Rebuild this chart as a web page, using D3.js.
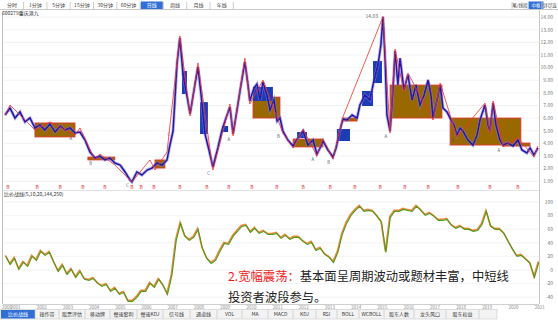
<!DOCTYPE html>
<html><head><meta charset="utf-8">
<script src="https://cdn.jsdelivr.net/npm/d3@7"></script>
<style>body{margin:0;background:#fff;overflow:hidden}svg{display:block;font-family:"Noto Sans CJK SC","Noto Sans",sans-serif}</style>
</head><body><svg id="c" width="558" height="321"></svg>
<script>
const years=[2000,2001,2002,2003,2004,2005,2006,2007,2008,2009,2010,2011,2012,2013,2014,2015,2016,2017,2018,2019,2020,2021];
const priceTicks=[1,2,3,4,5,6,7,8,9,10,11,12,13,14];
const oscTicks=[-40,-20,0,20,40,60,80,100];
const priceDates=[2000.79,2000.98,2001.17,2001.36,2001.55,2001.74,2001.93,2002.12,2002.31,2002.50,2002.70,2002.89,2003.08,2003.27,2003.46,2003.65,2003.84,2004.03,2004.22,2004.41,2004.60,2004.79,2004.98,2005.18,2005.37,2005.56,2005.63,2005.82,2006.01,2006.21,2006.40,2006.59,2006.78,2006.97,2007.08,2007.20,2007.27,2007.35,2007.46,2007.58,2007.69,2007.85,2008.00,2008.15,2008.27,2008.42,2008.57,2008.72,2008.91,2009.07,2009.22,2009.37,2009.49,2009.64,2009.79,2009.94,2010.06,2010.13,2010.29,2010.40,2010.52,2010.63,2010.78,2010.90,2011.05,2011.17,2011.28,2011.39,2011.58,2011.78,2011.97,2012.16,2012.35,2012.54,2012.69,2012.81,2012.92,2013.11,2013.30,2013.42,2013.57,2013.68,2013.84,2014.03,2014.22,2014.33,2014.52,2014.71,2014.87,2015.02,2015.13,2015.21,2015.29,2015.36,2015.48,2015.59,2015.67,2015.78,2015.86,2016.01,2016.16,2016.32,2016.47,2016.62,2016.78,2016.93,2017.04,2017.12,2017.27,2017.39,2017.50,2017.65,2017.77,2017.92,2018.03,2018.15,2018.26,2018.45,2018.64,2018.80,2018.91,2019.10,2019.22,2019.29,2019.41,2019.52,2019.67,2019.79,2019.98,2020.17,2020.36,2020.51,2020.70,2020.82,2020.97,2021.12];
const priceValues=[6.25,6.80,6.01,6.49,5.70,6.01,5.22,5.46,5.06,5.54,4.90,5.38,5.06,5.22,4.82,4.90,4.27,3.32,2.84,3.00,2.69,2.84,2.45,2.29,1.74,1.10,0.95,1.74,1.50,1.89,2.05,2.45,2.29,2.69,3.87,4.98,7.44,10.29,12.35,9.50,8.23,6.33,8.23,10.05,7.83,4.75,3.48,2.13,3.64,5.06,6.01,6.88,4.75,6.65,8.62,10.45,8.62,7.36,8.39,8.70,7.44,8.86,7.83,6.65,7.44,5.77,6.01,4.98,4.27,3.80,4.43,4.98,3.87,4.27,3.16,3.64,4.19,3.48,2.92,3.64,5.06,5.93,5.85,6.25,6.01,7.04,7.83,7.44,9.02,10.21,11.79,14.03,10.63,6.25,4.98,8.23,11.32,8.62,10.76,8.23,9.42,7.44,8.62,7.04,7.83,9.02,7.83,6.01,7.44,8.62,6.80,6.49,6.01,5.46,4.67,5.22,4.98,4.27,3.87,4.67,5.85,7.04,5.46,4.98,7.19,5.46,4.27,3.87,4.03,3.80,4.27,3.48,3.24,3.64,3.08,3.64];
const biDates=[2000.79,2000.98,2001.93,2002.50,2003.46,2003.65,2004.22,2004.41,2004.98,2005.63,2006.32,2006.51,2006.97,2007.46,2007.85,2008.15,2008.72,2009.37,2009.49,2009.94,2010.13,2010.63,2011.39,2011.78,2012.16,2012.69,2012.92,2013.30,2013.68,2015.21,2015.48,2015.67,2016.01,2016.16,2017.12,2017.39,2018.03,2019.10,2019.29,2019.41,2019.79,2020.36,2020.97,2021.12];
const biValues=[6.25,7.04,5.06,5.70,4.67,5.22,2.69,3.16,2.29,0.95,2.69,1.89,3.32,12.51,6.17,10.37,1.89,7.12,4.59,10.76,7.12,9.02,4.82,3.64,5.14,3.00,4.35,2.76,6.09,14.03,4.82,11.47,8.07,9.58,5.85,8.78,4.51,7.19,4.82,7.36,3.72,4.43,2.92,3.80];
const zsStart=[2001.93,2003.95,2006.51,2010.25,2011.78,2013.68,2015.48,2017.77,2019.79];
const zsEnd=[2003.46,2004.98,2006.89,2011.28,2012.92,2014.22,2017.46,2020.47,2020.82];
const zsLow=[4.51,2.69,2.05,6.01,3.72,5.77,6.01,3.87,3.79];
const zsHigh=[5.62,2.92,2.69,7.67,4.35,6.01,8.62,6.01,4.03];
const blueStart=[2014.41,2014.83,2008.23,2007.54,2010.25,2009.07,2013.45,2011.93];
const blueEnd=[2014.83,2015.17,2008.53,2007.73,2011.01,2009.30,2013.95,2012.31];
const blueLow=[6.96,8.78,4.74,7.91,7.36,4.90,4.19,4.43];
const blueHigh=[8.15,10.52,7.27,9.73,8.47,5.38,5.14,4.90];
const oscStart=2000.8, oscStep=1/6;
const oscValues=[20.6,8.8,17.6,1.5,11.8,5.9,20.6,14.7,27.9,22.1,26.5,11.8,-1.5,7.4,-5.9,1.5,-10.3,-1.5,-13.2,-14.7,-11.8,-19.1,-23.5,-20.6,-30.9,-26.5,-35.3,-32.4,-45.6,-45.6,-39.7,-30.9,-30.9,-19.1,-25.0,-13.2,-22.1,-35.3,-7.4,44.1,69.1,50,44.1,48.5,60.3,32.4,17.6,10.3,14.7,27.9,39.7,38.2,50,57.4,64.7,66.2,55.9,61.8,54.4,57.4,52.9,52.9,54.4,47.1,51.5,45.6,48.5,48.5,42.6,38.2,41.2,29.4,32.4,23.5,19.1,11.8,26.5,52.9,69.1,80.9,88.2,94.1,86.8,88.2,86.8,79.4,70.6,26.5,77.9,86.8,86.8,89.7,88.2,86.8,94.1,88.2,80.9,83.8,79.4,73.5,73.5,75,66.2,61.8,64.7,60.3,60.3,57.4,58.8,67.6,86.8,64.7,60.3,60.3,54.4,42.6,30.9,20.6,22.1,16.2,10.3,-10.3,11.8];
const markerDates=[2000.90,2002.01,2002.89,2003.76,2004.60,2005.63,2005.98,2006.47,2007.46,2008.49,2009.33,2010.21,2011.16,2012.16,2013.19,2014.14,2015.10,2016.05,2016.93,2018.07,2019.29,2020.36];
const pivotLabelDates=[2003.46,2004.22,2005.63,2007.20,2008.72,2009.49,2011.39,2012.69,2013.30,2015.48,2018.03,2019.79];
const pivotLabelValues=[4.67,2.69,0.95,4.98,1.89,4.59,4.82,3.00,2.76,4.82,4.51,3.72];
const pivotLabels=["A","B","C","C","C","A","B","A","B","A","A","A"];
const topTabs=["分时","1分钟","5分钟","15分钟","30分钟","60分钟","日线","周线","月线","年线"];
const rightTabs=["笔/线段","中枢","详尽连"];
const bottomTabs=["比价战线","操作带","股票评估","移动牌","慢速套利","慢速KDJ","信号线","通道线","VOL","MA","MACD","KDJ","RSI","BOLL","WCBOLL","股东人数","龙头风口","股东权益"];
const stockName="600279重庆港九";
const oscName="比价战线(5,10,20,144,250)";
const peakLabel="14.03";
const note1Red="2.宽幅震荡：", note1="基本面呈周期波动或题材丰富，中短线", note2="投资者波段参与。";

const svg=d3.select("#c");
const W=558,H=321;
const x=d3.scaleLinear().domain([2000.75,2021.2]).range([4,540]);
const yP=d3.scaleLinear().domain([1,14]).range([181.3,17.1]);
const yO=d3.scaleLinear().domain([-40,100]).range([297.2,202]);
const main={top:11,bottom:190}, low={top:191,bottom:304};

svg.append("rect").attr("width",W).attr("height",H).attr("fill","#fff");
const defs=svg.append("defs");
defs.append("clipPath").attr("id","cm").append("rect").attr("x",3).attr("y",main.top).attr("width",536).attr("height",main.bottom-main.top);
defs.append("clipPath").attr("id","cl").append("rect").attr("x",3).attr("y",low.top).attr("width",536).attr("height",low.bottom-low.top);

svg.append("g").selectAll("line").data(priceTicks).join("line")
 .attr("x1",3).attr("x2",539).attr("y1",d=>yP(d)).attr("y2",d=>yP(d)).attr("stroke","#f0f0f0").attr("stroke-width",0.8);
svg.append("g").selectAll("line").data(oscTicks).join("line")
 .attr("x1",3).attr("x2",539).attr("y1",d=>yO(d)).attr("y2",d=>yO(d)).attr("stroke","#f0f0f0").attr("stroke-width",0.8);

svg.append("line").attr("x1",0).attr("x2",W).attr("y1",9.5).attr("y2",9.5).attr("stroke","#c8c8c8");
svg.append("line").attr("x1",2.5).attr("x2",2.5).attr("y1",14).attr("y2",304).attr("stroke","#bdbdbd");
svg.append("line").attr("x1",539.5).attr("x2",539.5).attr("y1",10).attr("y2",304).attr("stroke","#c8c8c8");
svg.append("line").attr("x1",3).attr("x2",539).attr("y1",190.5).attr("y2",190.5).attr("stroke","#e2e2e2");
svg.append("line").attr("x1",3).attr("x2",539).attr("y1",304.5).attr("y2",304.5).attr("stroke","#d0d0d0");

const gm=svg.append("g").attr("clip-path","url(#cm)");
gm.selectAll("rect.zs").data(zsStart).join("rect").attr("class","zs")
 .attr("x",(d,i)=>x(d)).attr("width",(d,i)=>x(zsEnd[i])-x(d))
 .attr("y",(d,i)=>yP(zsHigh[i])).attr("height",(d,i)=>yP(zsLow[i])-yP(zsHigh[i]))
 .attr("fill","#9a6800").attr("stroke","#e83030").attr("stroke-width",0.8);
gm.selectAll("rect.bb").data(blueStart).join("rect").attr("class","bb")
 .attr("x",(d,i)=>x(d)).attr("width",(d,i)=>x(blueEnd[i])-x(d))
 .attr("y",(d,i)=>yP(blueHigh[i])).attr("height",(d,i)=>yP(blueLow[i])-yP(blueHigh[i]))
 .attr("fill","#1c3cb4");
const lineP=d3.line().x((d,i)=>x(priceDates[i])).y(d=>yP(d));
gm.append("path").attr("d",lineP(priceValues)).attr("fill","none").attr("stroke","#8080e8").attr("stroke-width",3.2).attr("opacity",0.55);
gm.append("path").attr("d",lineP(priceValues)).attr("fill","none").attr("stroke","#1818a8").attr("stroke-width",1.5);
gm.append("path").attr("d",lineP(priceValues)).attr("fill","none").attr("stroke","#d03050").attr("stroke-width",0.5).attr("stroke-dasharray","1.5,3").attr("transform","translate(0.5,-0.6)");
const lineB=d3.line().x((d,i)=>x(biDates[i])).y(d=>yP(d));
gm.append("path").attr("d",lineB(biValues)).attr("fill","none").attr("stroke","#f03030").attr("stroke-width",0.8);
gm.selectAll("text.pl").data(pivotLabels).join("text").attr("class","pl")
 .attr("x",(d,i)=>x(pivotLabelDates[i])-3).attr("y",(d,i)=>yP(pivotLabelValues[i])+5)
 .attr("text-anchor","end").attr("font-size",4.2).attr("fill","#556").text(d=>d);
gm.selectAll("text.mk").data(markerDates).join("text").attr("class","mk")
 .attr("x",d=>x(d)).attr("y",189).attr("text-anchor","middle").attr("font-size",5).attr("fill","#e83030").text("B");
const pk=d3.maxIndex(priceValues);
gm.append("text").attr("x",x(priceDates[pk])-5).attr("y",yP(priceValues[pk])+1).attr("text-anchor","end").attr("font-size",5).attr("fill","#666").text(peakLabel);

const gl=svg.append("g").attr("clip-path","url(#cl)");
const lineO=d3.line().x((d,i)=>x(oscStart+i*oscStep)).y(d=>yO(d));
gl.append("path").attr("d",lineO(oscValues)).attr("fill","none").attr("stroke","#f08a3c").attr("stroke-width",1.6).attr("transform","translate(0,-0.6)");
gl.append("path").attr("d",lineO(oscValues)).attr("fill","none").attr("stroke","#4f9a1e").attr("stroke-width",1.1).attr("transform","translate(0.6,0.4)");

svg.append("g").selectAll("text").data(priceTicks).join("text")
 .attr("x",553).attr("y",d=>yP(d)+1.8).attr("text-anchor","end").attr("font-size",5).attr("fill","#777")
 .text(d=>d3.format(".2f")(d));
svg.append("g").selectAll("text").data(oscTicks).join("text")
 .attr("x",553).attr("y",d=>yO(d)+1.8).attr("text-anchor","end").attr("font-size",5).attr("fill","#777")
 .text(d=>d);
svg.append("g").selectAll("text").data(years).join("text")
 .attr("x",d=>d===2000?2:x(d)).attr("y",309).attr("font-size",4.5).attr("fill","#888").text(d=>d);
svg.append("g").selectAll("line").data(years.slice(1)).join("line")
 .attr("x1",d=>x(d)).attr("x2",d=>x(d)).attr("y1",304).attr("y2",305.5).attr("stroke","#ccc");

svg.append("text").attr("x",2).attr("y",15).attr("font-size",5).attr("fill","#333").text(stockName);
svg.append("text").attr("x",4).attr("y",196).attr("font-size",5).attr("fill","#333").text(oscName);

const tabW=23.3;
const tt=svg.append("g");
topTabs.forEach((t,i)=>{
  const cx=12+i*tabW;
  if(t==="日线") tt.append("rect").attr("x",cx-11).attr("y",1.5).attr("width",22).attr("height",7.5).attr("fill","#2f6fd6");
  tt.append("text").attr("x",cx).attr("y",7.3).attr("text-anchor","middle").attr("font-size",5).attr("fill",t==="日线"?"#fff":"#444").text(t);
  tt.append("line").attr("x1",cx+11.6).attr("x2",cx+11.6).attr("y1",2).attr("y2",9).attr("stroke","#ccc");
});
const rtX=[520,536,550];
rightTabs.forEach((t,i)=>{
  if(t==="中枢") tt.append("rect").attr("x",rtX[i]-7.5).attr("y",1.5).attr("width",15).attr("height",7.5).attr("fill","#2f6fd6");
  tt.append("text").attr("x",rtX[i]).attr("y",7.3).attr("text-anchor","middle").attr("font-size",4.5).attr("fill",t==="中枢"?"#fff":"#444").text(t);
  tt.append("line").attr("x1",rtX[i]-8).attr("x2",rtX[i]-8).attr("y1",2).attr("y2",9).attr("stroke","#ccc");
});

const bt=svg.append("g");
bt.append("rect").attr("x",0).attr("y",309.5).attr("width",497).attr("height",9.5).attr("fill","#f3f3f3").attr("stroke","#c8c8c8").attr("stroke-width",0.6);
const bW=[34,24,26,25,27,26,27,27,25,26,25,23,21,22,25,30,32,33];
let bx=1;
bottomTabs.forEach((t,i)=>{
  const w=bW[i];
  if(i===0) bt.append("rect").attr("x",bx).attr("y",310).attr("width",w).attr("height",8.5).attr("fill","#2f6fd6");
  bt.append("text").attr("x",bx+w/2).attr("y",316.4).attr("text-anchor","middle").attr("font-size",5).attr("fill",i===0?"#fff":"#333").text(t);
  bt.append("line").attr("x1",bx+w).attr("x2",bx+w).attr("y1",310).attr("y2",318.5).attr("stroke","#c0c0c0").attr("stroke-width",0.6);
  bx+=w;
});

const nt=svg.append("text").attr("x",228).attr("y",281).attr("font-size",12.3).attr("fill","#222");
nt.append("tspan").attr("fill","#ee1c1c").text(note1Red);
nt.append("tspan").text(note1);
svg.append("text").attr("x",228).attr("y",301.5).attr("font-size",12.3).attr("fill","#222").text(note2);
</script></body></html>
